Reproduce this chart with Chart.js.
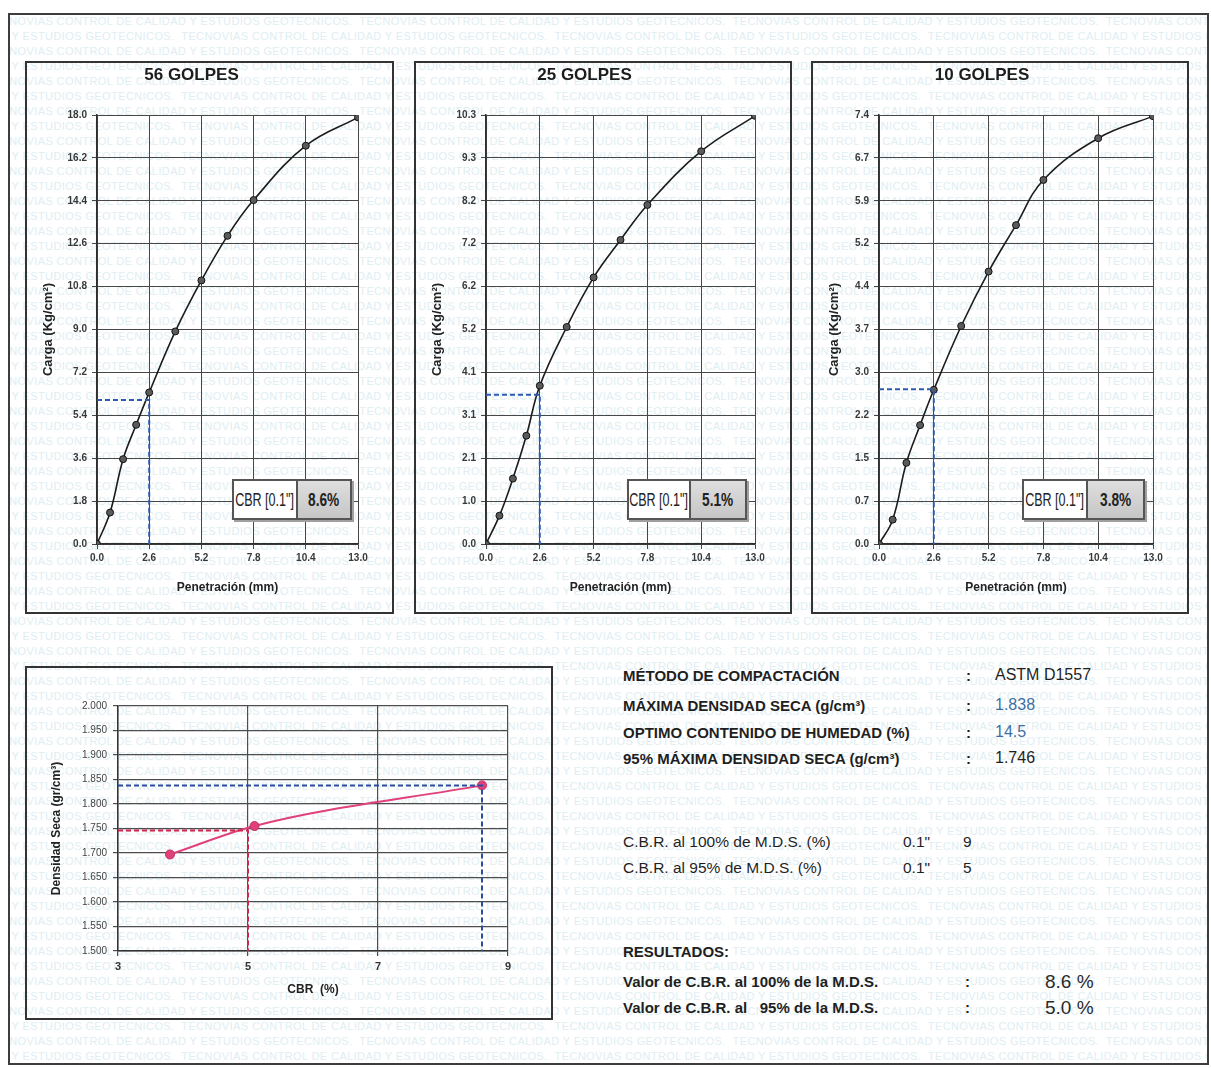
<!DOCTYPE html>
<html lang="es">
<head>
<meta charset="utf-8">
<title>Ensayo CBR</title>
<script src="https://cdn.jsdelivr.net/npm/chart.js@4.4.1/dist/chart.umd.min.js"></script>
<style>
  html, body { margin:0; padding:0; background:#fff; }
  body { width:1211px; height:1068px; position:relative; overflow:hidden;
         font-family:"Liberation Sans", Arial, Helvetica, sans-serif; color:#1f1f1f; }
  #watermark { position:absolute; left:8px; top:13px; width:1201px; height:1052px; overflow:hidden; }
  #watermark div { position:absolute; white-space:pre; font-size:11px; letter-spacing:0.4px; color:#e0eef2; }
  .sheet { position:absolute; left:8px; top:13px; width:1201px; height:1052px; border:2px solid #3d3d3d; box-sizing:border-box; }
  .frame { position:absolute; border:2px solid #333; box-sizing:border-box; }
  canvas.chart { position:absolute; }
  .cbrbox { position:absolute; display:flex; border:2px solid #555; box-sizing:border-box; box-shadow:2px 2px 0 #a0a0a0; }
  .cbrbox .lab { background:#fff; border-right:2px solid #555; display:flex; align-items:center; justify-content:center; overflow:hidden; }
  .cbrbox .val { background:linear-gradient(#dedede,#c6c6c6); display:flex; align-items:center; justify-content:center; flex:1; overflow:hidden; }
  .cbrbox span { display:inline-block; font-size:19px; transform:scaleX(0.66); white-space:nowrap; color:#222; }
  .cbrbox .val span { font-weight:bold; transform:scaleX(0.72); }
  .txt { position:absolute; white-space:pre; line-height:1; }
  .b { font-weight:bold; font-size:15px; }
  .r { font-size:15.5px; }
  .v { font-size:16px; }
  .big { font-size:19px; color:#2a2a2a; }
  .blue { color:#3d6fa3; }
</style>
</head>
<body>
<div id="watermark"></div>
<div class="sheet"></div>

<canvas id="c56" class="chart" width="369" height="553" style="left:25px;top:61px"></canvas>
<canvas id="c25" class="chart" width="378" height="553" style="left:414px;top:61px"></canvas>
<canvas id="c10" class="chart" width="378" height="553" style="left:811px;top:61px"></canvas>
<canvas id="cDens" class="chart" width="528" height="354" style="left:25px;top:666px"></canvas>

<div class="frame" style="left:25px;top:61px;width:369px;height:553px"></div>
<div class="frame" style="left:414px;top:61px;width:378px;height:553px"></div>
<div class="frame" style="left:811px;top:61px;width:378px;height:553px"></div>
<div class="frame" style="left:25px;top:666px;width:528px;height:354px"></div>

<div id="boxes"></div>

<div class="txt b" style="left:623px;top:667.5px">MÉTODO DE COMPACTACIÓN</div>
<div class="txt b" style="left:966px;top:667.5px">:</div>
<div class="txt v" style="left:995px;top:667px">ASTM D1557</div>

<div class="txt b" style="left:623px;top:697.5px">MÁXIMA DENSIDAD SECA (g/cm³)</div>
<div class="txt b" style="left:966px;top:697.5px">:</div>
<div class="txt v blue" id="tMds" style="left:995px;top:697px"></div>

<div class="txt b" style="left:623px;top:724.5px">OPTIMO CONTENIDO DE HUMEDAD (%)</div>
<div class="txt b" style="left:966px;top:724.5px">:</div>
<div class="txt v blue" id="tOch" style="left:995px;top:724px"></div>

<div class="txt b" style="left:623px;top:750.5px">95% MÁXIMA DENSIDAD SECA (g/cm³)</div>
<div class="txt b" style="left:966px;top:750.5px">:</div>
<div class="txt v" id="tMds95" style="left:995px;top:750px"></div>

<div class="txt r" style="left:623px;top:834px">C.B.R. al 100% de M.D.S. (%)</div>
<div class="txt r" style="left:903px;top:834px">0.1"</div>
<div class="txt r" id="tCbrA" style="left:963px;top:834px"></div>

<div class="txt r" style="left:623px;top:860px">C.B.R. al 95% de M.D.S. (%)</div>
<div class="txt r" style="left:903px;top:860px">0.1"</div>
<div class="txt r" id="tCbrB" style="left:963px;top:860px"></div>

<div class="txt b" style="left:623px;top:943.5px">RESULTADOS:</div>

<div class="txt b" style="left:623px;top:973.5px">Valor de C.B.R. al 100% de la M.D.S.</div>
<div class="txt b" style="left:965px;top:973.5px">:</div>
<div class="txt big" id="tRes100" style="left:1045px;top:971.5px"></div>

<div class="txt b" style="left:623px;top:999.5px">Valor de C.B.R. al   95% de la M.D.S.</div>
<div class="txt b" style="left:965px;top:999.5px">:</div>
<div class="txt big" id="tRes95" style="left:1045px;top:997.5px"></div>

<script>
// ---- Ensayo de carga-penetración (kg/cm² vs mm) ----
const penetracion = [0, 0.65, 1.3, 1.95, 2.6, 3.9, 5.2, 6.5, 7.8, 10.4, 13.0];
const carga56 = [0, 1.32, 3.56, 5.00, 6.36, 8.92, 11.06, 12.93, 14.43, 16.71, 17.9];
const carga25 = [0, 0.68, 1.57, 2.60, 3.80, 5.21, 6.40, 7.30, 8.14, 9.43, 10.28];
const carga10 = [0, 0.42, 1.40, 2.05, 2.66, 3.76, 4.70, 5.50, 6.28, 7.00, 7.38];
const titulosGolpes = ['56 GOLPES', '25 GOLPES', '10 GOLPES'];
const cbrGolpes = [8.6, 5.1, 3.8];

const ticksPenetracion = [0, 2.6, 5.2, 7.8, 10.4, 13.0];
const ticksCarga56 = [0, 1.8, 3.6, 5.4, 7.2, 9.0, 10.8, 12.6, 14.4, 16.2, 18.0];
const ticksCarga25 = [0, 1.03, 2.06, 3.09, 4.12, 5.15, 6.18, 7.21, 8.24, 9.27, 10.3];
const ticksCarga10 = [0, 0.74, 1.48, 2.22, 2.96, 3.70, 4.44, 5.18, 5.92, 6.66, 7.40];

const penetracionCBR = 2.6;   // 0.1"
const cargaPatron = 70.3;     // kg/cm² de la carga patrón a 0.1"

// ---- Densidad seca vs CBR ----
const cbrDensidad = [3.8, 5.1, 8.6];
const densidadSeca = [1.697, 1.755, 1.838];
const ticksCBR = [3, 5, 7, 9];
const ticksDensidad = [1.5, 1.55, 1.6, 1.65, 1.7, 1.75, 1.8, 1.85, 1.9, 1.95, 2.0];

const mds = 1.838;            // máxima densidad seca
const mds95 = 1.746;          // 95% de la máxima densidad seca
const humedadOptima = 14.5;
const cbr100 = 8.6;
const cbr95 = 5.0;

const FONT = '"Liberation Sans", Arial, sans-serif';

// fondo de marca de agua
(function () {
  const wm = document.getElementById('watermark');
  const frase = 'TECNOVIAS CONTROL DE CALIDAD Y ESTUDIOS GEOTECNICOS.  ';
  for (let i = 0; i < 71; i++) {
    const d = document.createElement('div');
    d.style.top = (i * 15 + 2) + 'px';
    d.style.left = (i % 2 ? -200 : -22) + 'px';
    d.textContent = frase.repeat(5);
    wm.appendChild(d);
  }
})();

const panelGeo = [
  { id: 'c56', carga: carga56, ticks: ticksCarga56, yLeft: 72, padRight: 36, box: { left: 232, w: 120, lab: 62 } },
  { id: 'c25', carga: carga25, ticks: ticksCarga25, yLeft: 72, padRight: 37, box: { left: 627, w: 120, lab: 60 } },
  { id: 'c10', carga: carga10, ticks: ticksCarga10, yLeft: 68, padRight: 36, box: { left: 1022, w: 123, lab: 62 } }
];

function cargaChart(g, titulo, cbr) {
  const cargaCBR = cbr * cargaPatron / 100;
  const ticksY = g.ticks;
  return new Chart(document.getElementById(g.id), {
    type: 'scatter',
    data: {
      datasets: [
        {
          data: [{ x: 0, y: cargaCBR }, { x: penetracionCBR, y: cargaCBR }, { x: penetracionCBR, y: 0 }],
          showLine: true, borderColor: '#2d5cae', borderWidth: 2, borderDash: [5, 3],
          pointRadius: 0, tension: 0
        },
        {
          data: penetracion.map((x, i) => ({ x, y: g.carga[i] })),
          showLine: true, borderColor: '#1c1c1c', borderWidth: 1.6, tension: 0.4,
          pointRadius: 3.5, pointBackgroundColor: '#5a5a5a', pointBorderColor: '#111', pointBorderWidth: 1
        }
      ]
    },
    options: {
      responsive: false, animation: false, devicePixelRatio: 1,
      layout: { padding: { top: 0, right: g.padRight, left: 0, bottom: 0 } },
      plugins: {
        legend: { display: false }, tooltip: { enabled: false },
        title: { display: true, text: titulo, color: '#1d1d1d',
                 font: { size: 17, weight: 'bold', family: FONT }, padding: { top: 3.8, bottom: 29.8 } }
      },
      scales: {
        x: {
          type: 'linear', min: 0, max: 13,
          afterFit: s => { s.height = 70; },
          afterBuildTicks: s => { s.ticks = ticksPenetracion.map(v => ({ value: v })); },
          ticks: { callback: v => Number(v).toFixed(1), font: { size: 10, weight: 'bold', family: FONT },
                   color: '#383838', padding: 3, maxRotation: 0, autoSkip: false },
          grid: { color: '#474747', lineWidth: 1, tickLength: 5 },
          border: { color: '#2e2e2e', width: 1.5 },
          title: { display: true, text: 'Penetración (mm)', color: '#222',
                   font: { size: 12, weight: 'bold', family: FONT }, padding: { top: 0, bottom: 18.8 } }
        },
        y: {
          type: 'linear', min: 0, max: ticksY[ticksY.length - 1],
          afterFit: s => { s.width = g.yLeft; },
          afterBuildTicks: s => { s.ticks = ticksY.map(v => ({ value: v })); },
          ticks: { callback: v => Number(v).toFixed(1), font: { size: 10, weight: 'bold', family: FONT },
                   color: '#383838', padding: 5, autoSkip: false },
          grid: { color: '#474747', lineWidth: 1, tickLength: 5 },
          border: { color: '#2e2e2e', width: 1.5 },
          title: { display: true, text: 'Carga (Kg/cm²)', color: '#222',
                   font: { size: 13, weight: 'bold', family: FONT }, padding: { top: 15.2, bottom: 0 } }
        }
      }
    }
  });
}

panelGeo.forEach((g, i) => {
  cargaChart(g, titulosGolpes[i], cbrGolpes[i]);
  const box = document.createElement('div');
  box.className = 'cbrbox';
  box.style.left = g.box.left + 'px';
  box.style.top = '479px';
  box.style.width = g.box.w + 'px';
  box.style.height = '41px';
  const lab = document.createElement('div');
  lab.className = 'lab';
  lab.style.width = g.box.lab + 'px';
  lab.innerHTML = '<span>CBR [0.1"]</span>';
  const val = document.createElement('div');
  val.className = 'val';
  val.innerHTML = '<span>' + cbrGolpes[i].toFixed(1) + '%</span>';
  box.appendChild(lab);
  box.appendChild(val);
  document.getElementById('boxes').appendChild(box);
});

// curva densidad seca - CBR
new Chart(document.getElementById('cDens'), {
  type: 'scatter',
  data: {
    datasets: [
      {
        data: [{ x: 3, y: mds }, { x: cbr100, y: mds }, { x: cbr100, y: 1.5 }],
        showLine: true, borderColor: '#2b4d9c', borderWidth: 2, borderDash: [5, 3], pointRadius: 0, tension: 0
      },
      {
        data: [{ x: 3, y: mds95 }, { x: cbr95, y: mds95 }, { x: cbr95, y: 1.5 }],
        showLine: true, borderColor: '#d0244f', borderWidth: 2, borderDash: [5, 3], pointRadius: 0, tension: 0
      },
      {
        data: cbrDensidad.map((x, i) => ({ x, y: densidadSeca[i] })),
        showLine: true, borderColor: '#e0417b', borderWidth: 2, cubicInterpolationMode: 'monotone',
        pointRadius: 4.5, pointBackgroundColor: '#e0417b', pointBorderColor: '#c22e62', pointBorderWidth: 1
      }
    ]
  },
  options: {
    responsive: false, animation: false, devicePixelRatio: 1,
    layout: { padding: { top: 40, right: 45, left: 0, bottom: 0 } },
    plugins: { legend: { display: false }, tooltip: { enabled: false } },
    scales: {
      x: {
        type: 'linear', min: 3, max: 9,
        afterFit: s => { s.height = 69; },
        afterBuildTicks: s => { s.ticks = ticksCBR.map(v => ({ value: v })); },
        ticks: { font: { size: 11, weight: 'bold', family: FONT }, color: '#333', padding: 4, maxRotation: 0, autoSkip: false },
        grid: { color: '#4d4d4d', lineWidth: 1.2, tickLength: 5 },
        border: { color: '#333', width: 1.5 },
        title: { display: true, text: 'CBR  (%)', color: '#222',
                 font: { size: 12, weight: 'bold', family: FONT }, padding: { top: 0, bottom: 22.8 } }
      },
      y: {
        type: 'linear', min: 1.5, max: 2.0,
        afterFit: s => { s.width = 93; },
        afterBuildTicks: s => { s.ticks = ticksDensidad.map(v => ({ value: v })); },
        ticks: { callback: v => Number(v).toFixed(3), font: { size: 10, family: FONT }, color: '#444', padding: 6, autoSkip: false },
        grid: { color: '#4d4d4d', lineWidth: 1.2, tickLength: 5 },
        border: { color: '#333', width: 1.5 },
        title: { display: true, text: 'Densidad Seca (gr/cm³)', color: '#222',
                 font: { size: 12, weight: 'bold', family: FONT }, padding: { top: 24.8, bottom: 0 } }
      }
    }
  }
});

// resumen
document.getElementById('tMds').textContent = mds.toFixed(3);
document.getElementById('tOch').textContent = humedadOptima.toFixed(1);
document.getElementById('tMds95').textContent = mds95.toFixed(3);
document.getElementById('tCbrA').textContent = Math.round(cbr100).toString();
document.getElementById('tCbrB').textContent = Math.round(cbr95).toString();
document.getElementById('tRes100').textContent = cbr100.toFixed(1) + ' %';
document.getElementById('tRes95').textContent = cbr95.toFixed(1) + ' %';
</script>
</body>
</html>
